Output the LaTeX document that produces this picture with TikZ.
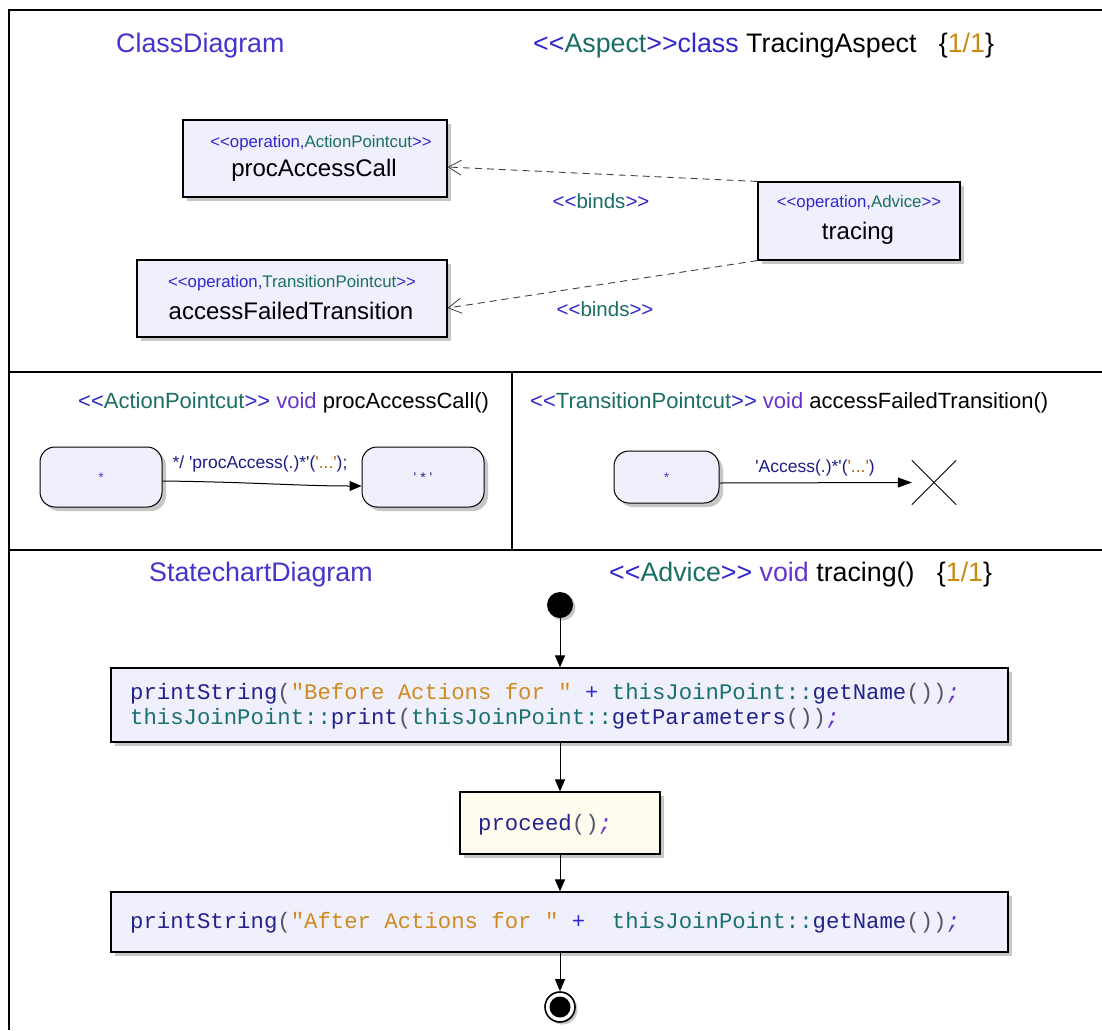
\documentclass[tikz,border=0pt]{standalone}
\usepackage{fontspec}
\setmainfont{Liberation Sans}[Ligatures=TeXOff]
\newfontfamily\codefont{Liberation Mono}[Ligatures=TeXOff]
\usetikzlibrary{arrows.meta,shadows}

% palette
\definecolor{ttl}{HTML}{4433CC}
\definecolor{stb}{HTML}{3027CC}
\definecolor{umlteal}{HTML}{1A6E64}
\definecolor{kwpurple}{HTML}{6633CC}
\definecolor{numor}{HTML}{C98A10}
\definecolor{boxfill}{HTML}{F0F0FC}
\definecolor{procfill}{HTML}{FFFBEE}
\definecolor{cnavy}{HTML}{22228C}
\definecolor{cstr}{HTML}{D08A20}
\definecolor{cteal}{HTML}{1A7070}
\definecolor{cgray}{HTML}{555566}
\definecolor{labnavy}{HTML}{1C1C8A}
\definecolor{labbrown}{HTML}{B0661A}

% coloured pieces of text
\newcommand\stOpen{\textcolor{stb}{<<}}
\newcommand\stClose{\textcolor{stb}{>>}}
\newcommand\kNav[1]{\textcolor{cnavy}{#1}}
\newcommand\kPun[1]{\textcolor{cgray}{#1}}
\newcommand\kStr[1]{\textcolor{cstr}{#1}}
\newcommand\kTeal[1]{\textcolor{cteal}{#1}}
\newcommand\kPlus{\textcolor{stb}{+}}
\newcommand\kSemi{\textcolor{kwpurple}{\textit{;}}}
\newcommand\sQ{'}

\begin{document}
\begin{tikzpicture}[x=1pt,y=-1pt,
  frameline/.style={line width=2pt, black},
  shade box/.style={drop shadow={shadow xshift=4pt, shadow yshift=-4pt, opacity=1, fill=black!22}},
  umlbox/.style={draw=black, line width=1.1pt, fill=boxfill, inner sep=0, shade box},
  statebox/.style={draw=black, line width=1pt, fill=boxfill, rounded corners=15pt, inner sep=0, shade box},
  txt/.style={inner sep=0, yshift=-2.5pt},
  hdr/.style={txt, anchor=west, font=\fontsize{26.8}{30}\selectfont},
  sub/.style={txt, anchor=west, font=\fontsize{22}{26}\selectfont},
  stereo/.style={txt, font=\fontsize{16.8}{20}\selectfont},
  opname/.style={txt, font=\fontsize{24}{28}\selectfont},
  bindlbl/.style={txt, font=\fontsize{20.5}{24}\selectfont},
  translbl/.style={txt, font=\fontsize{17.5}{21}\selectfont, text=labnavy},
  code/.style={txt, yshift=0.5pt, anchor=west, font=\codefont\fontsize{22.3}{26}\selectfont},
  dep/.style={draw=black!75, line width=0.9pt, dash pattern=on 7pt off 5pt,
    -{Straight Barb[length=13pt,width=15pt,line width=0.8pt]}},
  flow/.style={draw=black, line width=1pt, -{Triangle[length=12pt,width=10pt]}}
]
\useasboundingbox (0,0) rectangle (1102,1030);
\fill[white] (0,0) rectangle (1102,1030);

% frame and compartments
\draw[frameline] (9,10) -- (1102,10);
\draw[frameline] (9,9) -- (9,1030);
\draw[frameline] (9,372) -- (1102,372);
\draw[frameline] (9,550) -- (1102,550);
\draw[frameline] (512,372) -- (512,550);

% ---- class diagram compartment
\node[hdr] (cdtitle) at (116,43) {\textcolor{ttl}{ClassDiagram}};
\node[hdr] (aspect) at (533,43) {\stOpen\textcolor{umlteal}{Aspect}\stClose\textcolor{stb}{class} TracingAspect\ \ \ \{\textcolor{numor}{1/1}\}};

\node[umlbox, minimum width=264pt, minimum height=77pt] (pac) at (315,158.5) {};
\node[stereo] (pacst) at (321,141) {\textcolor{stb}{<<operation,}\textcolor{umlteal}{ActionPointcut}\stClose};
\node[opname] (pacnm) at (314,168) {procAccessCall};

\node[umlbox, minimum width=310pt, minimum height=77pt] (aft) at (292,298.5) {};
\node[stereo] (aftst) at (292,281) {\textcolor{stb}{<<operation,}\textcolor{umlteal}{TransitionPointcut}\stClose};
\node[opname] (aftnm) at (291,308) {accessFailedTransition};

\node[umlbox, minimum width=202pt, minimum height=78pt] (tr) at (859,221) {};
\node[stereo] (trst) at (859,201) {\textcolor{stb}{<<operation,}\textcolor{umlteal}{Advice}\stClose};
\node[opname] (trnm) at (858,231) {tracing};

\draw[dep] (tr.north west) -- ([yshift=-8.5pt]pac.east);
\draw[dep] (tr.south west) -- ([yshift=-9.5pt]aft.east);
\node[bindlbl] (bind1) at (601,199) {\stOpen\textcolor{umlteal}{binds}\stClose};
\node[bindlbl] (bind2) at (605,307) {\stOpen\textcolor{umlteal}{binds}\stClose};

% ---- action pointcut compartment
\node[sub] (aptitle) at (78,400) {\stOpen\textcolor{umlteal}{ActionPointcut}\stClose\ \textcolor{kwpurple}{void} procAccessCall()};
\node[statebox, minimum width=122pt, minimum height=60pt] (s1) at (101,477) {};
\node[inner sep=0, font=\fontsize{14}{16}\selectfont, text=kwpurple] (s1t) at (101,478) {*};
\node[statebox, minimum width=122pt, minimum height=60pt] (s2) at (423,477) {};
\node[inner sep=0, font=\fontsize{14}{16}\selectfont, text=cnavy] (s2t) at (423,478) {\sQ\ *\ \sQ};
\draw[flow] ([yshift=-4pt]s1.east) .. controls (250,482) and (300,486) .. ([yshift=-9pt]s2.west);
\node[translbl] (t1) at (260,461) {*/ \sQ procAccess(.)*\sQ(\textcolor{labbrown}{\sQ...\sQ});};

% ---- transition pointcut compartment
\node[sub] (tptitle) at (530,400) {\stOpen\textcolor{umlteal}{TransitionPointcut}\stClose\ \textcolor{kwpurple}{void} accessFailedTransition()};
\node[statebox, minimum width=105pt, minimum height=52pt] (s3) at (666.5,477) {};
\node[inner sep=0, font=\fontsize{14}{16}\selectfont, text=kwpurple] (s3t) at (666.5,478) {*};
\node[minimum size=44pt, inner sep=0] (xend) at (934,482.5) {};
\draw[line width=0.8pt] (xend.north west) -- (xend.south east);
\draw[line width=0.8pt] (xend.south west) -- (xend.north east);
\draw[flow, -{Triangle[length=14pt,width=10pt]}] ([yshift=-6pt]s3.east) -- (xend.west);
\node[translbl] (t2) at (815,465) {\sQ Access(.)*\sQ(\textcolor{labbrown}{\sQ...\sQ})};

% ---- statechart compartment
\node[hdr] (sctitle) at (149,572) {\textcolor{ttl}{StatechartDiagram}};
\node[hdr] (advice) at (609,572) {\stOpen\textcolor{umlteal}{Advice}\stClose\ \textcolor{kwpurple}{void} tracing()\ \ \ \{\textcolor{numor}{1/1}\}};

\node[circle, fill=black, minimum size=26pt, inner sep=0,
  drop shadow={shadow xshift=2.5pt, shadow yshift=-2.5pt, opacity=1, fill=black!22}] (init) at (560,605) {};

\node[umlbox, minimum width=897pt, minimum height=74pt] (before) at (559.5,705) {};
\node[code] (bl1) at (130,692) {\kNav{printString}\kPun{(}\kStr{"Before Actions for "} \kPlus{} \kTeal{thisJoinPoint::}\kNav{getName}\kPun{())}\kSemi};
\node[code] (bl2) at (130,717) {\kTeal{thisJoinPoint::}\kNav{print}\kPun{(}\kTeal{thisJoinPoint::}\kNav{getParameters}\kPun{())}\kSemi};

\node[umlbox, fill=procfill, minimum width=200pt, minimum height=62pt] (proc) at (560,823) {};
\node[code] (pl) at (478,823) {\kNav{proceed}\kPun{()}\kSemi};

\node[umlbox, minimum width=897pt, minimum height=60pt] (after) at (559.5,922) {};
\node[code] (al) at (130,921) {\kNav{printString}\kPun{(}\kStr{"After Actions for "} \kPlus\ \ \kTeal{thisJoinPoint::}\kNav{getName}\kPun{())}\kSemi};

\node[circle, draw=black, line width=1.6pt, fill=white, minimum size=30pt, inner sep=0,
  drop shadow={shadow xshift=2.5pt, shadow yshift=-2.5pt, opacity=1, fill=black!22}] (fin) at (560,1007) {};
\node[circle, fill=black, minimum size=21pt, inner sep=0] (fincore) at (fin.center) {};

\draw[flow] (init.south) -- (init.south |- before.north);
\draw[flow] (init.south |- before.south) -- (init.south |- proc.north);
\draw[flow] (proc.south) -- (proc.south |- after.north);
\draw[flow] (init.south |- after.south) -- (fin.north);
\end{tikzpicture}
\end{document}
